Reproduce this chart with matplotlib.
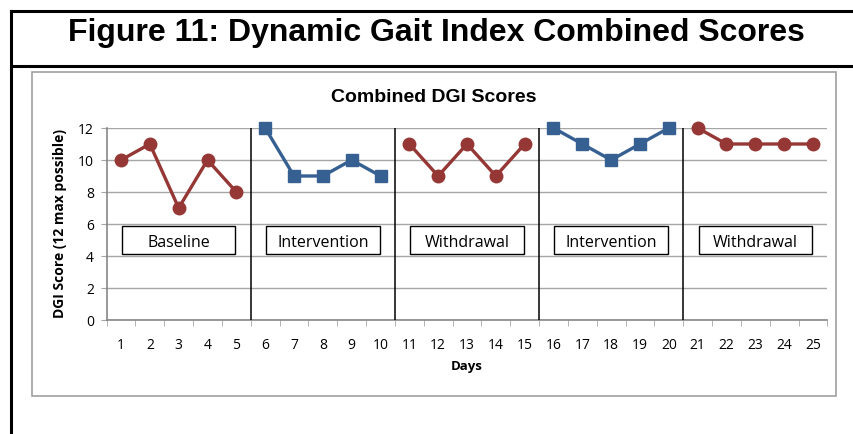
import matplotlib.pyplot as plt
from matplotlib.patches import Rectangle
from matplotlib.lines import Line2D

# data
days = list(range(1, 26))
phases = ["Baseline", "Intervention", "Withdrawal", "Intervention", "Withdrawal"]
scores = [10, 11, 7, 10, 8,
          12, 9, 9, 10, 9,
          11, 9, 11, 9, 11,
          12, 11, 10, 11, 12,
          12, 11, 11, 11, 11]
yticks = [0, 2, 4, 6, 8, 10, 12]

red = '#953735'
blue = '#376092'
grid_c = '#a6a6a6'
lab_font = ['Open Sans', 'DejaVu Sans']

fig = plt.figure(figsize=(8.54, 4.34), dpi=100)

# outer frame and figure title
fig.add_artist(Line2D([11/854, 11/854], [0, 1-11/434], color='black', lw=2.2))
fig.add_artist(Line2D([11/854, 1], [1-11/434, 1-11/434], color='black', lw=2.2))
fig.add_artist(Line2D([11/854, 1], [1-66/434, 1-66/434], color='black', lw=2.2))
fig.text(436/854, 1-33/434, 'Figure 11: Dynamic Gait Index Combined Scores',
         ha='center', va='center', fontsize=23, fontweight='bold',
         family='Liberation Sans')
fig.add_artist(Rectangle((32/854, 1-396/434), (836-32)/854, (396-72)/434,
                         fill=False, edgecolor='#a0a0a0', lw=1.2))
fig.text(434/854, 1-97/434, 'Combined DGI Scores', ha='center', va='center',
         fontsize=14, fontweight='bold', family='Liberation Sans')

ax = fig.add_axes([106.6/854, 1-320/434, (827.4-106.6)/854, (320-128)/434])
ax.set_xlim(0.5, 25.5)
ax.set_ylim(0, 12)

for i, name in enumerate(phases):
    x = days[i*5:(i+1)*5]
    y = scores[i*5:(i+1)*5]
    if name == "Intervention":
        ax.plot(x, y, color=blue, lw=2.4, marker='s', ms=9, clip_on=False, zorder=5)
    else:
        ax.plot(x, y, color=red, lw=2.4, marker='o', ms=9, clip_on=False, zorder=5)
    if i > 0:
        ax.axvline(x[0] - 0.5, color='black', lw=1.1, zorder=3)
    xc = (x[0] + x[-1]) / 2
    ax.add_patch(Rectangle((xc - 1.97, 4.1), 3.94, 1.8, facecolor='white',
                           edgecolor='black', lw=1.0, zorder=4))
    ax.text(xc, 4.8, name, ha='center', va='center', fontsize=11.5,
            family=lab_font, zorder=6)

ax.set_yticks(yticks)
ax.set_xticks(days)
ax.set_xticks([d + 0.5 for d in [0] + days], minor=True)
ax.tick_params(axis='x', which='major', length=0, pad=13, labelsize=10)
ax.tick_params(axis='x', which='minor', length=4, color=grid_c, direction='out')
ax.tick_params(axis='y', length=4, color=grid_c, labelsize=10, pad=5)
for lab in ax.get_xticklabels() + ax.get_yticklabels():
    lab.set_family(lab_font)
ax.grid(axis='y', color=grid_c, lw=1.0)
ax.set_axisbelow(True)
for s in ['top', 'right']:
    ax.spines[s].set_visible(False)
for s in ['left', 'bottom']:
    ax.spines[s].set_color('#868686')
    ax.spines[s].set_linewidth(1.2)

ax.set_xlabel('Days', fontsize=9.5, fontweight='bold', family=lab_font, labelpad=5)
ax.set_ylabel('DGI Score (12 max possible)', fontsize=10, fontweight='bold',
              family=lab_font, labelpad=8)

fig.savefig('out.png', dpi=100)
